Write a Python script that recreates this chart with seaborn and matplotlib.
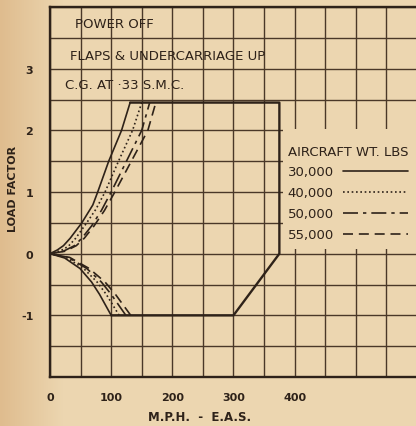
import numpy as np
import pandas as pd
import matplotlib
matplotlib.use("Agg")
import matplotlib.pyplot as plt
import seaborn as sns
from matplotlib.lines import Line2D
from matplotlib.patches import Rectangle
from matplotlib.colors import to_rgb

# ---------------- data ----------------
weights = ["30,000", "40,000", "50,000", "55,000"]

# positive stall curves (M.P.H. E.A.S., load factor)
pos_V_30 = [0, 12, 22, 33, 52, 70, 78, 96, 117, 131]
pos_n_30 = [0, 0.06, 0.13, 0.25, 0.5, 0.79, 1.0, 1.5, 2.0, 2.45]
pos_V_40 = [0, 18, 30, 42, 60, 75, 90, 112, 135, 150]
pos_n_40 = [0, 0.05, 0.12, 0.25, 0.5, 0.72, 1.0, 1.5, 2.0, 2.45]
pos_V_50 = [0, 22, 40, 52, 68, 84, 100, 125, 150, 163]
pos_n_50 = [0, 0.04, 0.13, 0.25, 0.45, 0.7, 1.0, 1.5, 2.0, 2.45]
pos_V_55 = [0, 25, 43, 56, 72, 89, 106, 133, 160, 173]
pos_n_55 = [0, 0.04, 0.13, 0.25, 0.45, 0.7, 1.0, 1.5, 2.0, 2.45]

# negative stall curves
neg_V_30 = [0, 24, 49, 68, 81, 100]
neg_n_30 = [0, -0.07, -0.24, -0.46, -0.66, -1.0]
neg_V_40 = [0, 28, 55, 77, 92, 113]
neg_n_40 = [0, -0.07, -0.24, -0.46, -0.66, -1.0]
neg_V_50 = [0, 30, 60, 84, 100, 124]
neg_n_50 = [0, -0.06, -0.24, -0.46, -0.66, -1.0]
neg_V_55 = [0, 32, 64, 90, 107, 132]
neg_n_55 = [0, -0.06, -0.24, -0.46, -0.66, -1.0]

# flight envelope (structural limits)
env_V = [131, 375, 375, 300, 100]
env_n = [2.45, 2.45, 0, -1, -1]

x_ticks = [0, 100, 200, 300, 400]
y_ticks = [-1, 0, 1, 2, 3]
notes = ["POWER OFF", "FLAPS & UNDERCARRIAGE UP", "C.G. AT \u00b733 S.M.C."]

# ---------------- style ----------------
PAPER = "#ecd6b0"
EDGE = "#dfbc8e"
INK = "#2e2219"
GRID = "#4a3828"
sns.set_theme(style="white")
plt.rcParams["font.family"] = ["DejaVu Sans"]
plt.rcParams["axes.unicode_minus"] = False

W, H = 416, 427
fig = plt.figure(figsize=(W / 100, H / 100), dpi=100, facecolor=PAPER)

# paper background with slightly darker left edge (scan look)
bg = fig.add_axes([0, 0, 1, 1], zorder=-10)
grad = np.clip(np.linspace(0, 1, W) / 0.15, 0, 1)
c0, c1 = np.array(to_rgb(EDGE)), np.array(to_rgb(PAPER))
img = (c0[None, :] * (1 - grad[:, None]) + c1[None, :] * grad[:, None])[None, :, :]
bg.imshow(np.repeat(img, 4, axis=0), aspect="auto", extent=[0, 1, 0, 1])
bg.set_axis_off()

ax = fig.add_axes([50 / W, 49 / H, 367 / W, 370 / H])
ax.set_facecolor(PAPER)

pos = {"30,000": (pos_V_30, pos_n_30), "40,000": (pos_V_40, pos_n_40),
       "50,000": (pos_V_50, pos_n_50), "55,000": (pos_V_55, pos_n_55)}
neg = {"30,000": (neg_V_30, neg_n_30), "40,000": (neg_V_40, neg_n_40),
       "50,000": (neg_V_50, neg_n_50), "55,000": (neg_V_55, neg_n_55)}

rows = []
for w in weights:
    V = neg[w][0][::-1] + pos[w][0][1:]
    n = neg[w][1][::-1] + pos[w][1][1:]
    for i, (v, nn) in enumerate(zip(V, n)):
        rows.append(dict(weight=w, order=i, V=v, n=nn))
df = pd.DataFrame(rows)

dashes = {"30,000": "", "40,000": (1, 1.6), "50,000": (9, 3, 2, 3), "55,000": (6, 3.5)}
sns.lineplot(data=df, x="V", y="n", style="weight", style_order=weights,
             dashes=dashes, color=INK, lw=1.2, sort=False, estimator=None,
             legend=False, ax=ax)

env_df = pd.DataFrame({"V": env_V, "n": env_n})
sns.lineplot(data=env_df, x="V", y="n", sort=False, estimator=None,
             color=INK, lw=1.7, ax=ax)

# axes, grid
ax.set_xlim(0, 600)
ax.set_ylim(-2, 4)
ax.set_xticks(x_ticks)
ax.set_yticks(y_ticks)
ax.set_xticks(np.arange(0, 601, 50), minor=True)
ax.set_yticks(np.arange(-2, 4.01, 0.5), minor=True)
ax.grid(which="both", color=GRID, lw=1.0)
ax.set_axisbelow(True)
ax.tick_params(which="both", length=0)
ax.tick_params(axis="x", pad=11, labelsize=8, labelcolor=INK)
ax.tick_params(axis="y", pad=12, labelsize=8, labelcolor=INK)
for lab in ax.get_xticklabels() + ax.get_yticklabels():
    lab.set_fontweight("bold")
for s in ["top", "left", "bottom"]:
    ax.spines[s].set_color(INK)
    ax.spines[s].set_linewidth(1.7)
ax.spines["right"].set_visible(False)

ax.set_xlabel("M.P.H.  -  E.A.S.", fontsize=8.5, fontweight="bold", color=INK)
ax.xaxis.set_label_coords((200 - 50) / 367, -(418 - 378) / 370)
ax.xaxis.label.set_va("center")
ax.set_ylabel("LOAD FACTOR", fontsize=8, fontweight="bold", color=INK)
ax.yaxis.set_label_coords((13 - 50) / 367, (378 - 189) / 370)
ax.yaxis.label.set_va("center")

# notes
note_pos = [(41, 3.73), (33, 3.22), (25, 2.74)]
for t, (xv, yv) in zip(notes, note_pos):
    ax.text(xv, yv, t, fontsize=9.5, color=INK, va="center", ha="left")

# blank paper area behind the legend (covers the grid, not the curves)
ax.add_patch(Rectangle((283 / W, (H - 250) / H), (W - 283) / W, 120 / H,
                       transform=fig.transFigure, facecolor=PAPER,
                       edgecolor="none", zorder=1))

# legend
handles = []
for w in weights:
    d = dashes[w]
    ls = "-" if d == "" else (0, d)
    handles.append(Line2D([], [], color=INK, lw=1.2, ls=ls))
leg = ax.legend(handles, weights, title="AIRCRAFT WT. LBS", loc="upper left",
                bbox_to_anchor=((277 - 50) / 367, (378 - 135) / 370),
                markerfirst=False, frameon=False, fontsize=9.5, title_fontsize=9.5,
                handlelength=4.9, handletextpad=0.7, labelspacing=0.6,
                borderpad=0.3, alignment="left")
for t in leg.get_texts():
    t.set_color(INK)
leg.get_title().set_color(INK)

fig.savefig("out.png", dpi=100, facecolor=PAPER)
